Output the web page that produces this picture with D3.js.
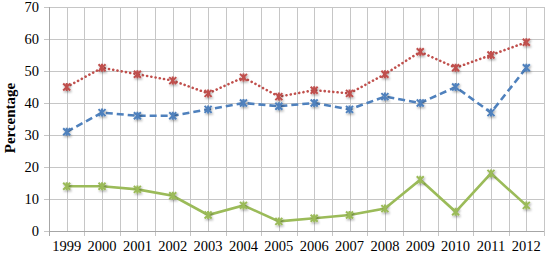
<!DOCTYPE html>
<html>
<head>
<style>
  body { margin: 0; background: #fff; }
  .grid line { stroke: #c6c6c6; stroke-width: 1; }
</style>
<script src="https://d3js.org/d3.v7.min.js"></script>
</head>
<body>
<svg id="chart" width="554" height="254"></svg>
<script>
// data
const years = ['1999','2000','2001','2002','2003','2004','2005','2006','2007','2008','2009','2010','2011','2012'];
const redSeries   = [45, 51, 49, 47, 43, 48, 42, 44, 43, 49, 56, 51, 55, 59];
const blueSeries  = [31, 37, 36, 36, 38, 40, 39, 40, 38, 42, 40, 45, 37, 51];
const greenSeries = [14, 14, 13, 11, 5, 8, 3, 4, 5, 7, 16, 6, 18, 8];
const yTicks = [0, 10, 20, 30, 40, 50, 60, 70];

const serif = "'Liberation Serif', 'Times New Roman', Tinos, 'DejaVu Serif', serif";
const svg = d3.select('#chart');
const plotLeft = 49, plotRight = 544, plotTop = 7, plotBottom = 231;

const x = d3.scaleBand().domain(years).range([plotLeft, plotRight]);
const y = d3.scaleLinear().domain([0, 70]).range([plotBottom, plotTop]);
const cx = d => x(d) + x.bandwidth() / 2;

// grid: horizontal
const grid = svg.append('g').attr('class', 'grid');
grid.selectAll('line.h').data(yTicks).enter().append('line')
    .attr('x1', plotLeft - 5).attr('x2', plotRight)
    .attr('y1', d => Math.round(y(d)) + 0.5).attr('y2', d => Math.round(y(d)) + 0.5);

// vertical lines at category edges and centers
const edges = years.map(d => x(d)).concat([plotRight]);
const centers = years.map(cx);
grid.selectAll('line.e').data(edges).enter().append('line')
    .attr('x1', d => Math.round(d) + 0.5).attr('x2', d => Math.round(d) + 0.5)
    .attr('y1', plotTop).attr('y2', plotBottom + 5);
grid.selectAll('line.c').data(centers).enter().append('line')
    .attr('x1', d => Math.round(d) + 0.5).attr('x2', d => Math.round(d) + 0.5)
    .attr('y1', plotTop).attr('y2', plotBottom);

// axis lines
svg.append('line').attr('x1', plotLeft).attr('x2', plotRight)
    .attr('y1', Math.round(plotBottom) + 0.5).attr('y2', Math.round(plotBottom) + 0.5)
    .attr('stroke', '#a6a6a6');
svg.append('line').attr('x1', plotLeft + 0.5).attr('x2', plotLeft + 0.5)
    .attr('y1', plotTop).attr('y2', plotBottom + 5)
    .attr('stroke', '#a6a6a6');

// tick labels
svg.append('g').selectAll('text').data(yTicks).enter().append('text')
    .attr('x', 39).attr('y', d => y(d) + 5)
    .attr('text-anchor', 'end')
    .attr('font-family', serif).attr('font-size', 14.5)
    .text(d => d);
svg.append('g').selectAll('text').data(years).enter().append('text')
    .attr('x', cx).attr('y', 251)
    .attr('text-anchor', 'middle')
    .attr('font-family', serif).attr('font-size', 14.5)
    .text(d => d);

svg.append('text')
    .attr('transform', 'translate(15,118) rotate(-90)')
    .attr('text-anchor', 'middle')
    .attr('font-family', serif).attr('font-size', 15).attr('font-weight', 'bold')
    .text('Percentage');

// shadow filter for markers
const defs = svg.append('defs');
const f = defs.append('filter').attr('id', 'sh').attr('x', '-50%').attr('y', '-50%').attr('width', '200%').attr('height', '200%');
f.append('feDropShadow').attr('dx', 1).attr('dy', 1.5).attr('stdDeviation', 1.2).attr('flood-color', '#000').attr('flood-opacity', 0.35);

const series = [
  { values: redSeries,   color: '#C0504D', dash: '0.1,4.2', cap: 'round' },
  { values: blueSeries,  color: '#4F81BD', dash: '7,4',     cap: 'butt' },
  { values: greenSeries, color: '#9BBB59', dash: null,      cap: 'butt' }
];

const line = d3.line().x((d, i) => cx(years[i])).y(d => y(d));

series.forEach(s => {
  svg.append('path').datum(s.values)
     .attr('d', line)
     .attr('fill', 'none')
     .attr('stroke', s.color)
     .attr('stroke-width', 2.6)
     .attr('stroke-dasharray', s.dash)
     .attr('stroke-linecap', s.cap);

  const m = svg.append('g').attr('filter', 'url(#sh)');
  m.selectAll('path').data(s.values).enter().append('path')
     .attr('transform', (d, i) => 'translate(' + cx(years[i]) + ',' + y(d) + ')')
     .attr('d', 'M-3.5,-3.5L3.5,3.5M-3.5,3.5L3.5,-3.5M0,-4L0,4')
     .attr('stroke', s.color)
     .attr('stroke-width', 2)
     .attr('fill', 'none');
});
</script>
</body>
</html>
